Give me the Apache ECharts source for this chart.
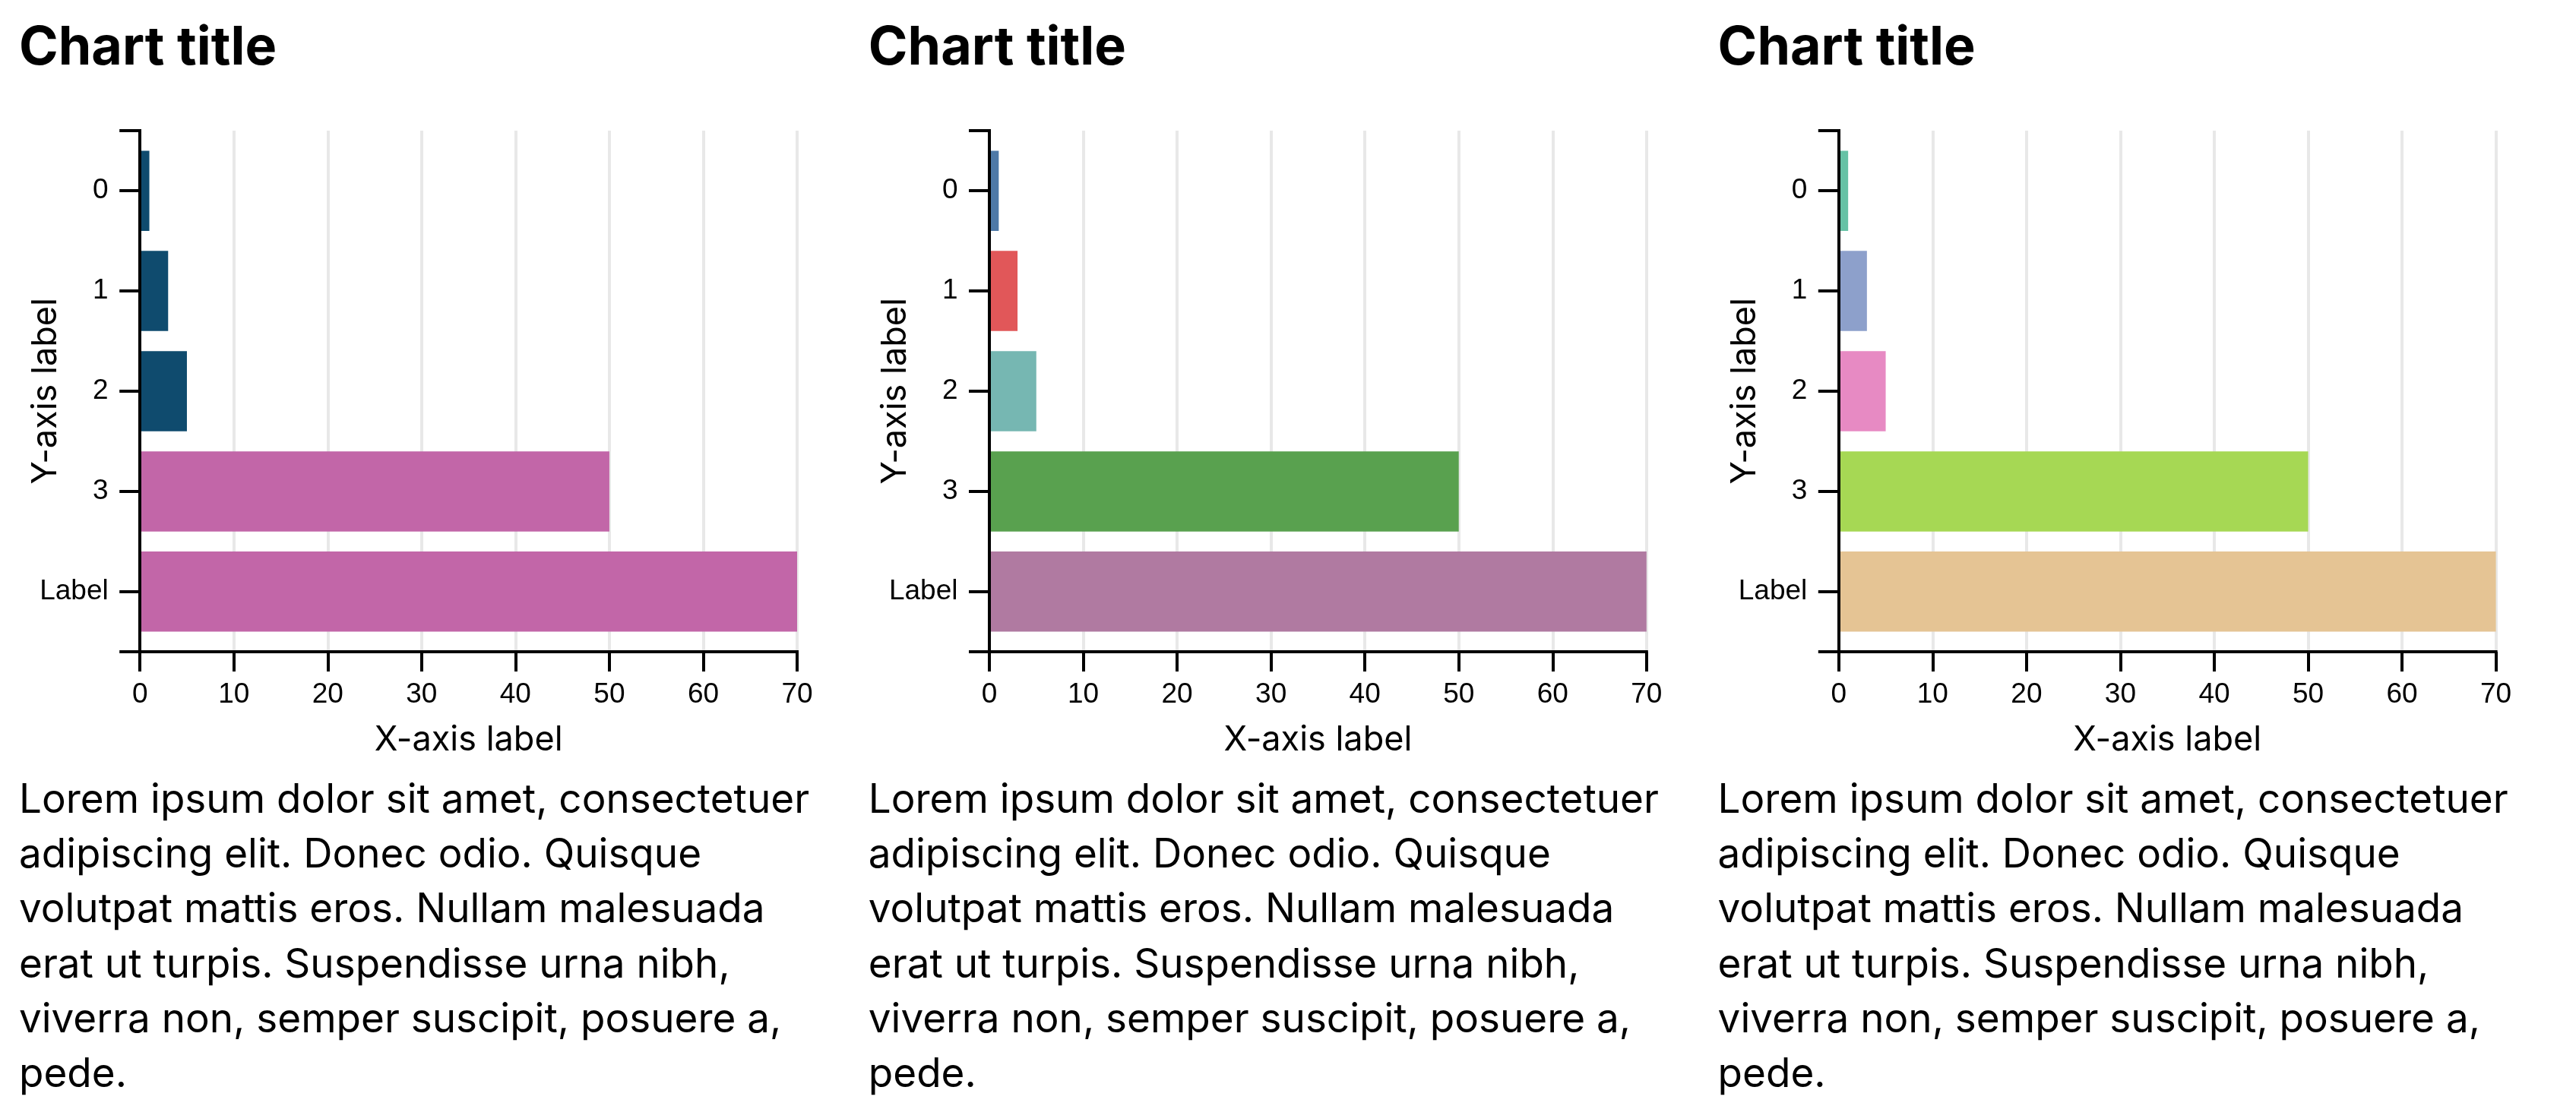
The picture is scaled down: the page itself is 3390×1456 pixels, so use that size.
<!DOCTYPE html>
<html>
<head>
<meta charset="utf-8">
<script src="https://cdn.jsdelivr.net/npm/echarts@6/dist/echarts.min.js"></script>
<style>
  html, body { margin: 0; padding: 0; background: #fff; }
  #chart { width: 3390px; height: 1456px; }
</style>
</head>
<body>
<div id="chart"></div>
<script>
// ---- data ----
const categories = ['0', '1', '2', '3', 'Label'];
const values = [1, 3, 5, 50, 70];
const xMin = 0;
const xMax = 70;
const xInterval = 10;
const chartTitle = 'Chart title';
const xAxisName = 'X-axis label';
const yAxisName = 'Y-axis label';
const paragraphLines = [
  'Lorem ipsum dolor sit amet, consectetuer',
  'adipiscing elit. Donec odio. Quisque',
  'volutpat mattis eros. Nullam malesuada',
  'erat ut turpis. Suspendisse urna nibh,',
  'viverra non, semper suscipit, posuere a,',
  'pede.'
];

// ---- styles ----
const palettes = [
  ['#0f4b6e', '#0f4b6e', '#0f4b6e', '#c266a8', '#c266a8'],
  ['#4e79a7', '#e15759', '#76b7b2', '#59a14f', '#b07aa1'],
  ['#66c2a5', '#8da0cb', '#e78ac3', '#a6d854', '#e5c494']
];

const PANEL_STEP = 1117.8;
const BASE_X = 25;
const AXIS_OFFSET = 159.2;
const PLOT_W = 864.8;
const PLOT_TOP = 172;
const PLOT_H = 686;
const BAND_INSET = 13.2;

const title = [], grid = [], xAxis = [], yAxis = [], series = [];

for (let i = 0; i < 3; i++) {
  const x0 = BASE_X + i * PANEL_STEP;
  const ax = x0 + AXIS_OFFSET;

  title.push({
    text: chartTitle,
    left: x0, top: 29, padding: 0,
    textStyle: { fontFamily: 'Inter', fontWeight: 700, fontSize: 70, lineHeight: 70, color: '#000' }
  });
  title.push({
    text: paragraphLines.join('\n'),
    left: x0, top: 1018, padding: 0,
    textStyle: { fontFamily: 'Inter', fontWeight: 400, fontSize: 53, lineHeight: 72.2, color: '#000' }
  });

  // grid A: frame axes (value x axis and outer y axis line)
  grid.push({ left: ax, top: PLOT_TOP, width: PLOT_W, height: PLOT_H });
  // grid B: category band area
  grid.push({ left: ax, top: PLOT_TOP + BAND_INSET, width: PLOT_W, height: PLOT_H - 2 * BAND_INSET });

  xAxis.push({
    gridIndex: 2 * i, type: 'value', min: xMin, max: xMax, interval: xInterval, position: 'bottom',
    axisLine: { show: true, lineStyle: { color: '#000', width: 4, cap: 'square' } },
    axisTick: { show: true, length: 26, lineStyle: { color: '#000', width: 4 } },
    axisLabel: { fontFamily: 'Liberation Sans', fontSize: 37, color: '#000', margin: 38 },
    splitLine: { show: true, lineStyle: { color: '#e8e8e8', width: 4 } },
    name: xAxisName, nameLocation: 'middle', nameGap: 94,
    nameTextStyle: { fontFamily: 'Inter', fontSize: 45, color: '#000' }
  });
  xAxis.push({
    gridIndex: 2 * i + 1, type: 'value', min: xMin, max: xMax, show: false
  });

  yAxis.push({
    gridIndex: 2 * i, type: 'value', min: 0, max: 1, interval: 1, z: 5,
    axisLine: { show: true, lineStyle: { color: '#000', width: 4, cap: 'square' } },
    axisTick: { show: true, length: 27, lineStyle: { color: '#000', width: 4 } },
    axisLabel: { show: false },
    splitLine: { show: false },
    name: yAxisName, nameLocation: 'middle', nameGap: 101, nameRotate: 90,
    nameTextStyle: { fontFamily: 'Inter', fontSize: 45, color: '#000' }
  });
  yAxis.push({
    gridIndex: 2 * i + 1, type: 'category', data: categories, inverse: true,
    axisLine: { show: false },
    axisTick: { show: true, alignWithLabel: true, length: 27, lineStyle: { color: '#000', width: 4 } },
    axisLabel: { fontFamily: 'Liberation Sans', fontSize: 37, color: '#000', margin: 41.5 },
    splitLine: { show: false }
  });

  series.push({
    type: 'bar', xAxisIndex: 2 * i + 1, yAxisIndex: 2 * i + 1,
    barCategoryGap: '20%',
    data: values.map((v, j) => ({ value: v, itemStyle: { color: palettes[i][j] } })),
    silent: true
  });
}

const chart = echarts.init(document.getElementById('chart'), null, { renderer: 'canvas' });
chart.setOption({
  animation: false,
  backgroundColor: '#fff',
  title, grid, xAxis, yAxis, series
});
</script>
</body>
</html>
